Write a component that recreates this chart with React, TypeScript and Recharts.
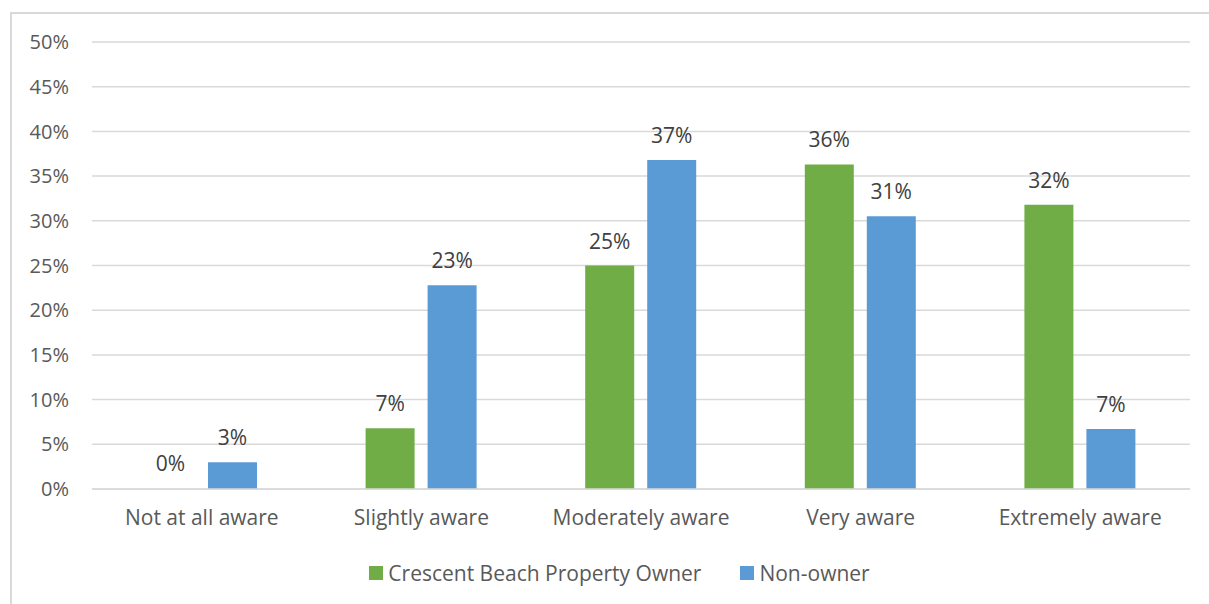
import React from "react";
import { BarChart, Bar, XAxis, YAxis, CartesianGrid, LabelList, Cell } from "recharts";

const categories = ["Not at all aware", "Slightly aware", "Moderately aware", "Very aware", "Extremely aware"];
const ownerValues = [0, 6.8, 25.0, 36.3, 31.8];
const nonOwnerValues = [3.0, 22.8, 36.8, 30.5, 6.7];
const yTicks = [0, 5, 10, 15, 20, 25, 30, 35, 40, 45, 50];

const OWNER = "#70AD47";
const NON_OWNER = "#5B9BD5";
const FONT = "'Open Sans', Lato, sans-serif";

const data = categories.map((name, i) => ({
  name,
  owner: ownerValues[i],
  nonOwner: nonOwnerValues[i],
}));

const legendItems = [
  { label: "Crescent Beach Property Owner", color: OWNER },
  { label: "Non-owner", color: NON_OWNER },
];

function ChartLegend() {
  return (
    <div
      style={{
        position: "absolute",
        left: 15,
        top: 558,
        width: 1209,
        display: "flex",
        justifyContent: "center",
        gap: 39,
        fontFamily: FONT,
        fontSize: 21,
        lineHeight: "30px",
        color: "#595959",
      }}
    >
      {legendItems.map((it) => (
        <div key={it.label} style={{ display: "flex", alignItems: "center", gap: 5 }}>
          <span style={{ width: 14, height: 14, background: it.color, display: "inline-block" }} />
          <span>{it.label}</span>
        </div>
      ))}
    </div>
  );
}

const pct = (v: number) => `${Math.round(v)}%`;

export default function App() {
  return (
    <div style={{ position: "fixed", left: 0, top: 0, width: 1209, height: 604, background: "#fff", overflow: "hidden" }}>
      <div style={{ position: "absolute", left: 10, top: 12, width: 1220, height: 620, borderLeft: "2px solid #d9d9d9", borderTop: "2px solid #d9d9d9" }} />
      <BarChart
        width={1209}
        height={604}
        data={data}
        margin={{ top: 42, right: 19, bottom: 65, left: 32 }}
        barSize={49}
        barGap={13}
        style={{ position: "absolute", left: 0, top: 0 }}
      >
        <CartesianGrid vertical={false} stroke="#d9d9d9" strokeWidth={1.5} />
        <XAxis
          dataKey="name"
          axisLine={{ stroke: "#d9d9d9", strokeWidth: 1.5 }}
          tickLine={false}
          tickSize={0}
          tickMargin={21}
          height={50}
          tick={{ fill: "#595959", fontSize: 21, fontFamily: FONT }}
        />
        <YAxis
          domain={[0, 50]}
          ticks={yTicks}
          width={60}
          axisLine={false}
          tickLine={false}
          tickSize={0}
          tickMargin={23}
          tickFormatter={(v) => `${v}%`}
          tick={{ fill: "#595959", fontSize: 20, fontFamily: FONT }}
        />
        <Bar dataKey="owner" fill={OWNER} minPointSize={1} isAnimationActive={false}>
          {ownerValues.map((v, i) => (
            <Cell key={i} fill={v === 0 ? "transparent" : OWNER} />
          ))}
          <LabelList
            dataKey="owner"
            position="top"
            offset={17}
            formatter={pct}
            style={{ fill: "#404040", fontSize: 21, fontFamily: FONT }}
          />
        </Bar>
        <Bar dataKey="nonOwner" fill={NON_OWNER} isAnimationActive={false}>
          <LabelList
            dataKey="nonOwner"
            position="top"
            offset={17}
            formatter={pct}
            style={{ fill: "#404040", fontSize: 21, fontFamily: FONT }}
          />
        </Bar>
      </BarChart>
      <ChartLegend />
    </div>
  );
}
